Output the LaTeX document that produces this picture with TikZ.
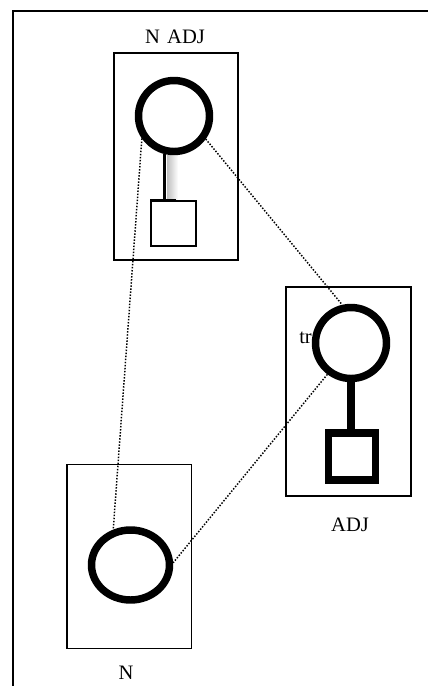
\documentclass[tikz,border=0pt]{standalone}
\usepackage{fontspec}
\setmainfont{Liberation Serif}
\usetikzlibrary{shapes.geometric,calc}
\begin{document}
\begin{tikzpicture}[x=0.75pt,y=-0.75pt,
  frame/.style={draw,line width=1.1pt,inner sep=0pt},
  ring/.style={draw,circle,line width=5.6pt,inner sep=0pt,minimum size=53.25pt},
  oring/.style={draw,ellipse,line width=5.6pt,inner sep=0pt,minimum width=58.5pt,minimum height=52.5pt},
  thinsq/.style={draw,rectangle,line width=1.4pt,inner sep=0pt,minimum size=33.75pt},
  thicksq/.style={draw,rectangle,line width=5.4pt,inner sep=0pt,minimum size=35.25pt},
  lab/.style={font=\fontsize{15.4}{18}\selectfont,inner sep=0pt},
  dots/.style={line width=1.1pt,dash pattern=on 1.1pt off 1.2pt}]
\useasboundingbox (0,0) rectangle (428,686);
% outer frame (open on right and bottom)
\draw[line width=1.3pt] (428,11) -- (13,11) -- (13,686);
% boxes
\node[frame,minimum width=93pt,minimum height=155.25pt] (bt) at (176,156.5) {};
\node[frame,minimum width=93.75pt,minimum height=156.75pt] (br) at (348.5,391.5) {};
\node[frame,minimum width=93.5pt,minimum height=138pt] (bn) at (129.3,556.5) {};
% labels
\node[lab] (lt) at (175,37) {N\hspace{0.35em}ADJ};
\node[lab] (lr) at (350,525) {ADJ};
\node[lab] (ln) at (126,673) {N};
\node[lab,anchor=base west] (tr) at (299,343) {tr};
% top unit
\shade[left color=black!25,right color=white] (167,155) rectangle (178,199);
\node[ring] (ct) at (174,116) {};
\node[thinsq] (st) at (173.5,223.5) {};
\draw[line width=2.25pt] (ct.256) -- (ct.256 |- st.north);
\draw[line width=2.2pt] ($(st.north west)+(0,0)$) -- ($(st.north)+(2,0)$);
% right unit
\node[ring] (cr) at (351,343) {};
\node[thicksq] (sr) at (352,456.5) {};
\draw[line width=6pt] (cr.south) -- (cr.south |- sr.north);
% bottom unit
\node[oring] (cn) at (130.5,565) {};
% dotted links
\draw[dots] (ct.215) -- (cn.116);
\draw[dots] (ct.-36) -- (cr.103);
\draw[dots] (cr.233) -- (cn.3);
\end{tikzpicture}
\end{document}
